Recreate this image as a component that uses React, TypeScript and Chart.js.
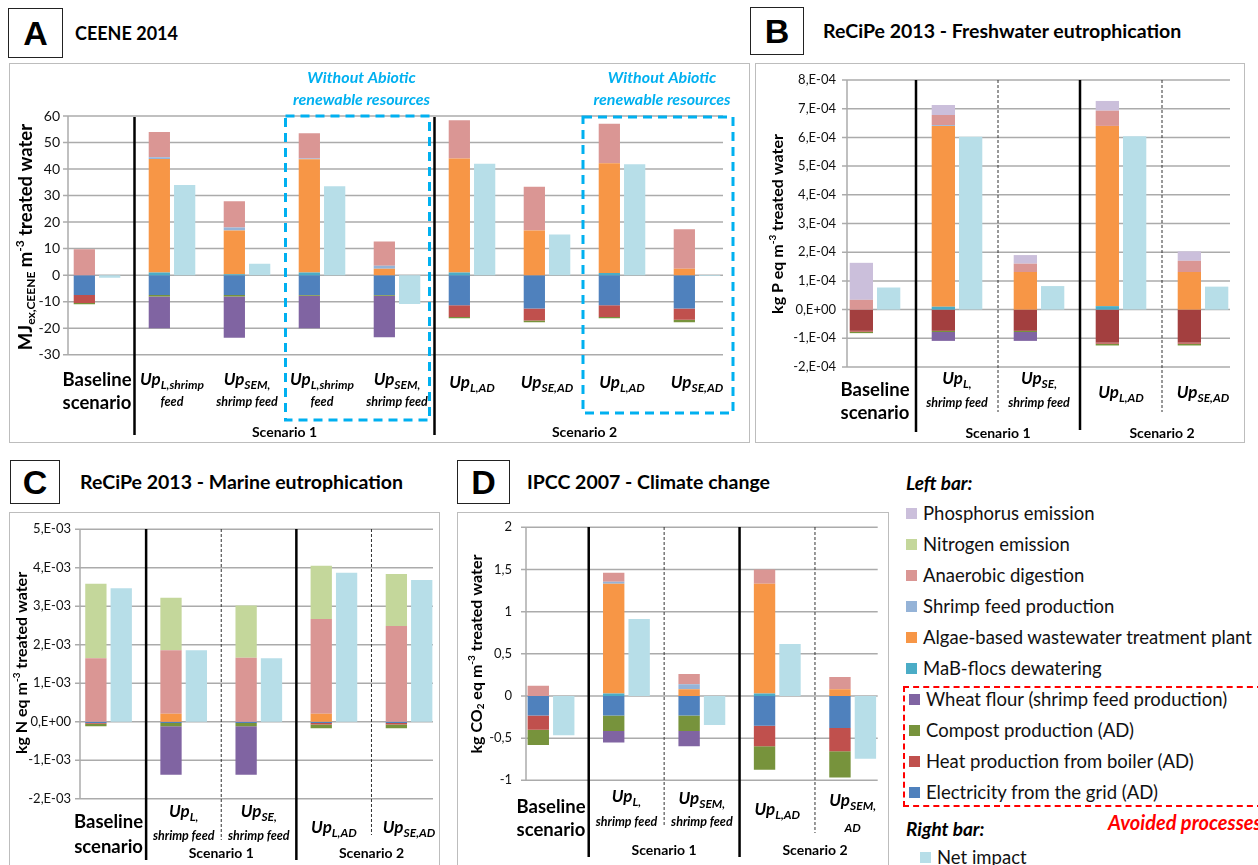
import React, { useEffect, useRef } from 'react';
import { Chart, registerables } from 'chart.js';
Chart.register(...registerables);

const FONT = 'Lato, "Noto Sans", sans-serif';

// ---------- colours ----------
const C_P = '#cbbfdb';
const C_N = '#c4d79b';
const C_AD = '#da9694';
const C_SF = '#95b3d7';
const C_ALG = '#f79646';
const C_MAB = '#4bacc6';
const C_WH = '#8064a2';
const C_CMP = '#77933c';
const C_HEAT = '#c0504d';
const C_EL = '#4f81bd';
const C_EL_B = '#a33f3f';
const C_NET = '#b7dee8';

// ---------- A: CEENE 2014 (MJex,CEENE m-3) ----------
const ceeneCategories = ['Baseline scenario', 'UpL,shrimp feed', 'UpSEM,shrimp feed', 'UpL,shrimp feed (w/o abiotic renewable)', 'UpSEM,shrimp feed (w/o abiotic renewable)', 'UpL,AD', 'UpSE,AD', 'UpL,AD (w/o abiotic renewable)', 'UpSE,AD (w/o abiotic renewable)'];
const ceeneMaB = [0, 1, 0.3, 1, 0, 1, 0, 0.8, 0];
const ceeneAlgae = [0, 42.8, 16.5, 42.7, 2.4, 43, 16.8, 41.4, 2.4];
const ceeneShrimpFeed = [0, 0.6, 1.2, 0.3, 1.1, 0, 0, 0, 0];
const ceeneAD = [9.8, 9.6, 9.9, 9.5, 9.2, 14.4, 16.5, 14.9, 14.9];
const ceeneElectricity = [-7.5, -7.5, -7.5, -7.5, -7.5, -11.4, -12.6, -11.4, -12.6];
const ceeneHeat = [-3.0, 0, 0, 0, 0, -4.4, -4.5, -4.4, -4.2];
const ceeneCompost = [-0.5, -0.6, -0.6, -0.3, -0.3, -0.5, -0.7, -0.5, -1.0];
const ceeneWheat = [0, -11.9, -15.5, -12.2, -15.6, 0, 0, 0, 0];
const ceeneNet = [-1.0, 34.0, 4.3, 33.5, -10.9, 42.0, 15.3, 41.8, -0.3];
const ceeneTicks = [60, 50, 40, 30, 20, 10, 0, -10, -20, -30];
const ceeneTickLabels = ['60', '50', '40', '30', '20', '10', '0', '-10', '-20', '-30'];

// ---------- B: ReCiPe 2013 freshwater eutrophication (kg P eq m-3) ----------
const fwCategories = ['Baseline scenario', 'UpL,shrimp feed', 'UpSE,shrimp feed', 'UpL,AD', 'UpSE,AD'];
const fwMaB = [0, 0.1e-4, 0, 0.12e-4, 0];
const fwAlgae = [0, 6.3e-4, 1.31e-4, 6.28e-4, 1.31e-4];
const fwShrimpFeed = [0, 0.03e-4, 0, 0, 0];
const fwAD = [0.34e-4, 0.35e-4, 0.29e-4, 0.53e-4, 0.39e-4];
const fwPhosphorus = [1.29e-4, 0.35e-4, 0.3e-4, 0.34e-4, 0.33e-4];
const fwElectricity = [-0.74e-4, -0.74e-4, -0.74e-4, -1.15e-4, -1.15e-4];
const fwHeat = [-0.03e-4, 0, 0, -0.04e-4, -0.04e-4];
const fwCompost = [-0.05e-4, -0.04e-4, -0.04e-4, -0.06e-4, -0.06e-4];
const fwWheat = [0, -0.31e-4, -0.31e-4, 0, 0];
const fwNet = [0.77e-4, 6.02e-4, 0.82e-4, 6.04e-4, 0.8e-4];
const fwTicks = [8e-4, 7e-4, 6e-4, 5e-4, 4e-4, 3e-4, 2e-4, 1e-4, 0, -1e-4, -2e-4];
const fwTickLabels = ['8,E-04', '7,E-04', '6,E-04', '5,E-04', '4,E-04', '3,E-04', '2,E-04', '1,E-04', '0,E+00', '-1,E-04', '-2,E-04'];

// ---------- C: ReCiPe 2013 marine eutrophication (kg N eq m-3) ----------
const meCategories = ['Baseline scenario', 'UpL,shrimp feed', 'UpSE,shrimp feed', 'UpL,AD', 'UpSE,AD'];
const meAlgae = [0, 0.21e-3, 0, 0.21e-3, 0];
const meAD = [1.65e-3, 1.65e-3, 1.66e-3, 2.46e-3, 2.49e-3];
const meNitrogen = [1.935e-3, 1.36e-3, 1.36e-3, 1.38e-3, 1.35e-3];
const meElectricity = [-0.03e-3, -0.03e-3, -0.03e-3, -0.03e-3, -0.03e-3];
const meHeat = [-0.02e-3, 0, 0, -0.04e-3, -0.04e-3];
const meCompost = [-0.07e-3, -0.09e-3, -0.09e-3, -0.1e-3, -0.1e-3];
const meWheat = [0, -1.26e-3, -1.26e-3, 0, 0];
const meNet = [3.47e-3, 1.86e-3, 1.65e-3, 3.87e-3, 3.68e-3];
const meTicks = [5e-3, 4e-3, 3e-3, 2e-3, 1e-3, 0, -1e-3, -2e-3];
const meTickLabels = ['5,E-03', '4,E-03', '3,E-03', '2,E-03', '1,E-03', '0,E+00', '-1,E-03', '-2,E-03'];

// ---------- D: IPCC 2007 climate change (kg CO2 eq m-3) ----------
const ccCategories = ['Baseline scenario', 'UpL,shrimp feed', 'UpSEM,shrimp feed', 'UpL,AD', 'UpSEM,AD'];
const ccMaB = [0, 0.03, 0, 0.03, 0];
const ccAlgae = [0, 1.3, 0.08, 1.3, 0.08];
const ccShrimpFeed = [0, 0.025, 0.058, 0, 0];
const ccAD = [0.12, 0.105, 0.122, 0.17, 0.145];
const ccElectricity = [-0.233, -0.233, -0.233, -0.352, -0.38];
const ccHeat = [-0.167, 0, 0, -0.245, -0.276];
const ccCompost = [-0.18, -0.182, -0.182, -0.277, -0.312];
const ccWheat = [0, -0.138, -0.182, 0, 0];
const ccNet = [-0.466, 0.913, -0.344, 0.617, -0.743];
const ccTicks = [2, 1.5, 1, 0.5, 0, -0.5, -1];
const ccTickLabels = ['2', '1,5', '1', '0,5', '0', '-0,5', '-1'];

// ---------- legend ----------
const legendLabels = ['Phosphorus emission', 'Nitrogen emission', 'Anaerobic digestion', 'Shrimp feed production', 'Algae-based wastewater treatment plant', 'MaB-flocs dewatering', 'Wheat flour (shrimp feed production)', 'Compost production (AD)', 'Heat production from boiler (AD)', 'Electricity from the grid (AD)'];
const legendColors = [C_P, C_N, C_AD, C_SF, C_ALG, C_MAB, C_WH, C_CMP, C_HEAT, C_EL];

// ---------- text helpers ----------
type Run = { t: string; f: string; dy?: number };
const fnt = (w: string, s: number) => `${w} ${s}px ${FONT}`;
const BASEF = fnt('bold', 18.5);
const UPF = fnt('italic bold', 17);
const SUBF = fnt('italic bold', 12);
const L2F = fnt('italic bold', 12.5);
const SCEN = fnt('bold', 14);

const base = (t: string): Run[] => [{ t, f: BASEF }];
const up = (sub: string): Run[] => [{ t: 'Up', f: UPF }, { t: sub, f: SUBF, dy: 5 }];
const ln2 = (t: string): Run[] => [{ t, f: L2F }];

function richWidth(ctx: CanvasRenderingContext2D, runs: Run[]) {
  let w = 0;
  runs.forEach((r) => { ctx.font = r.f; w += ctx.measureText(r.t).width; });
  return w;
}
function drawRich(ctx: CanvasRenderingContext2D, runs: Run[], cx: number, cy: number) {
  const total = richWidth(ctx, runs);
  let x = cx - total / 2;
  ctx.textAlign = 'left';
  ctx.textBaseline = 'middle';
  runs.forEach((r) => {
    ctx.font = r.f;
    ctx.fillText(r.t, x, cy + (r.dy || 0));
    x += ctx.measureText(r.t).width;
  });
}

type Line = { y: number; r: Run[] };
type Sep = { b: number; solid: boolean; y1: number; y2: number };
type Spec = {
  id: string;
  canvas: { left: number; top: number; w: number; h: number };
  area: { l: number; r: number; t: number; b: number };
  yMin: number; yMax: number;
  ticks: number[]; tickLabels: string[]; tickFont: number; tickRight: number;
  gridFrom: number; gridTo: number;
  categories: string[];
  series: { label: string; data: number[]; color: string; stack: string }[];
  cp: number; bp: number;
  seps: Sep[];
  labels: Line[][];
  scen: { t: string; c1: number; c2: number; y: number }[];
  axisTitle: { runs: Run[]; cx: number; cy: number };
  extra?: (chart: any, ox: number, oy: number, bx: (k: number) => number) => void;
};

const GRID = '#ababab';

function makePlugin(spec: Spec) {
  const ox = spec.canvas.left;
  const oy = spec.canvas.top;
  const boundary = (chart: any, k: number) => {
    const x = chart.scales.x;
    const n = spec.categories.length;
    if (k <= 0) return chart.chartArea.left;
    if (k >= n) return chart.chartArea.right;
    return (x.getPixelForValue(k - 1) + x.getPixelForValue(k)) / 2;
  };
  return {
    id: 'deco_' + spec.id,
    beforeDatasetsDraw(chart: any) {
      const ctx = chart.ctx as CanvasRenderingContext2D;
      const y = chart.scales.y;
      const gx1 = spec.gridFrom - ox;
      const gx2 = spec.gridTo - ox;
      ctx.save();
      ctx.strokeStyle = GRID;
      ctx.lineWidth = 1.5;
      const ys = spec.ticks.map((v) => y.getPixelForValue(v));
      ys.forEach((py) => {
        ctx.beginPath();
        ctx.moveTo(gx1 - 5, py);
        ctx.lineTo(gx2, py);
        ctx.stroke();
      });
      ctx.beginPath();
      ctx.moveTo(gx1, Math.min(...ys));
      ctx.lineTo(gx1, Math.max(...ys));
      ctx.stroke();
      ctx.fillStyle = '#111';
      ctx.font = fnt('normal', spec.tickFont);
      ctx.textAlign = 'right';
      ctx.textBaseline = 'middle';
      ys.forEach((py, i) => ctx.fillText(spec.tickLabels[i], spec.tickRight - ox, py));
      ctx.restore();
    },
    afterDraw(chart: any) {
      const ctx = chart.ctx as CanvasRenderingContext2D;
      const x = chart.scales.x;
      ctx.save();
      spec.seps.forEach((s) => {
        const bx = boundary(chart, s.b);
        ctx.beginPath();
        if (s.solid) {
          ctx.strokeStyle = '#000';
          ctx.lineWidth = 2.5;
          ctx.setLineDash([]);
        } else {
          ctx.strokeStyle = '#333';
          ctx.lineWidth = 1;
          ctx.setLineDash([3, 2]);
        }
        ctx.moveTo(bx, s.y1 - oy);
        ctx.lineTo(bx, s.y2 - oy);
        ctx.stroke();
      });
      ctx.setLineDash([]);
      ctx.fillStyle = '#000';
      spec.labels.forEach((lines, i) => {
        const cx = x.getPixelForValue(i);
        lines.forEach((ln) => drawRich(ctx, ln.r, cx, ln.y - oy));
      });
      spec.scen.forEach((s) => {
        const cx = (x.getPixelForValue(s.c1) + x.getPixelForValue(s.c2)) / 2;
        drawRich(ctx, [{ t: s.t, f: SCEN }], cx, s.y - oy);
      });
      ctx.translate(spec.axisTitle.cx - ox, spec.axisTitle.cy - oy);
      ctx.rotate(-Math.PI / 2);
      drawRich(ctx, spec.axisTitle.runs, 0, 0);
      ctx.restore();
      if (spec.extra) {
        ctx.save();
        spec.extra(chart, ox, oy, (k: number) => boundary(chart, k));
        ctx.restore();
      }
    },
  };
}

function buildConfig(spec: Spec) {
  const { canvas, area } = spec;
  return {
    type: 'bar' as const,
    data: {
      labels: spec.categories,
      datasets: spec.series.map((s) => ({
        label: s.label,
        data: s.data,
        backgroundColor: s.color,
        stack: s.stack,
        borderWidth: 0,
        categoryPercentage: spec.cp,
        barPercentage: spec.bp,
      })),
    },
    options: {
      animation: false as const,
      responsive: false,
      devicePixelRatio: 1,
      events: [],
      layout: {
        padding: {
          left: area.l - canvas.left,
          right: canvas.left + canvas.w - area.r,
          top: area.t - canvas.top,
          bottom: canvas.top + canvas.h - area.b,
        },
      },
      plugins: { legend: { display: false }, tooltip: { enabled: false }, title: { display: false } },
      scales: {
        x: { type: 'category' as const, display: false, stacked: true, offset: true, grid: { offset: true } },
        y: { type: 'linear' as const, display: false, stacked: true, min: spec.yMin, max: spec.yMax },
      },
    },
    plugins: [makePlugin(spec)],
  };
}

const L = 'L';
const R = 'R';

const specA: Spec = {
  id: 'A',
  canvas: { left: 9, top: 63, w: 741, h: 380 },
  area: { l: 59.5, r: 734.5, t: 116, b: 354.7 },
  yMin: -30, yMax: 60,
  ticks: ceeneTicks, tickLabels: ceeneTickLabels, tickFont: 14, tickRight: 60,
  gridFrom: 68, gridTo: 723,
  categories: ceeneCategories,
  series: [
    { label: 'MaB-flocs dewatering', data: ceeneMaB, color: C_MAB, stack: L },
    { label: 'Algae-based wastewater treatment plant', data: ceeneAlgae, color: C_ALG, stack: L },
    { label: 'Shrimp feed production', data: ceeneShrimpFeed, color: C_SF, stack: L },
    { label: 'Anaerobic digestion', data: ceeneAD, color: C_AD, stack: L },
    { label: 'Electricity from the grid (AD)', data: ceeneElectricity, color: C_EL, stack: L },
    { label: 'Heat production from boiler (AD)', data: ceeneHeat, color: C_HEAT, stack: L },
    { label: 'Compost production (AD)', data: ceeneCompost, color: C_CMP, stack: L },
    { label: 'Wheat flour (shrimp feed production)', data: ceeneWheat, color: C_WH, stack: L },
    { label: 'Net impact', data: ceeneNet, color: C_NET, stack: R },
  ],
  cp: 0.675, bp: 0.84,
  seps: [
    { b: 1, solid: true, y1: 117, y2: 435 },
    { b: 5, solid: true, y1: 117, y2: 435 },
  ],
  labels: [
    [{ y: 380, r: base('Baseline') }, { y: 403, r: base('scenario') }],
    [{ y: 380, r: up('L,shrimp') }, { y: 402, r: ln2('feed') }],
    [{ y: 380, r: up('SEM,') }, { y: 402, r: ln2('shrimp feed') }],
    [{ y: 380, r: up('L,shrimp') }, { y: 402, r: ln2('feed') }],
    [{ y: 380, r: up('SEM,') }, { y: 402, r: ln2('shrimp feed') }],
    [{ y: 383, r: up('L,AD') }],
    [{ y: 383, r: up('SE,AD') }],
    [{ y: 383, r: up('L,AD') }],
    [{ y: 383, r: up('SE,AD') }],
  ],
  scen: [
    { t: 'Scenario 1', c1: 1, c2: 4, y: 432 },
    { t: 'Scenario 2', c1: 5, c2: 8, y: 432 },
  ],
  axisTitle: {
    runs: [
      { t: 'MJ', f: fnt('bold', 18.5) },
      { t: 'ex,CEENE', f: fnt('bold', 12), dy: 5 },
      { t: ' m', f: fnt('bold', 18.5) },
      { t: '-3', f: fnt('bold', 12), dy: -6 },
      { t: ' treated water', f: fnt('bold', 18.5) },
    ],
    cx: 26, cy: 237,
  },
  extra: (chart, ox, oy, bx) => {
    const ctx = chart.ctx as CanvasRenderingContext2D;
    const boxes = [
      { x1: bx(3) + 1, x2: bx(5) - 5, y1: 116, y2: 420 },
      { x1: bx(7) - 1.5, x2: bx(9) - 1.5, y1: 117, y2: 413 },
    ];
    ctx.strokeStyle = '#00b0f0';
    ctx.lineWidth = 3;
    ctx.setLineDash([9, 6]);
    boxes.forEach((b) => {
      ctx.strokeRect(b.x1, b.y1 - oy, b.x2 - b.x1, b.y2 - b.y1);
    });
    ctx.setLineDash([]);
    ctx.fillStyle = '#00b0f0';
    boxes.forEach((b) => {
      const cx = (b.x1 + b.x2) / 2 + 4;
      drawRich(ctx, [{ t: 'Without Abiotic', f: fnt('italic bold', 16) }], cx, 78 - oy);
      drawRich(ctx, [{ t: 'renewable resources', f: fnt('italic bold', 16) }], cx, 99.5 - oy);
    });
  },
};

const specB: Spec = {
  id: 'B',
  canvas: { left: 755, top: 63, w: 489, h: 380 },
  area: { l: 834, r: 1244, t: 80, b: 367 },
  yMin: -2e-4, yMax: 8e-4,
  ticks: fwTicks, tickLabels: fwTickLabels, tickFont: 13, tickRight: 836,
  gridFrom: 847, gridTo: 1230,
  categories: fwCategories,
  series: [
    { label: 'MaB-flocs dewatering', data: fwMaB, color: C_MAB, stack: L },
    { label: 'Algae-based wastewater treatment plant', data: fwAlgae, color: C_ALG, stack: L },
    { label: 'Shrimp feed production', data: fwShrimpFeed, color: C_SF, stack: L },
    { label: 'Anaerobic digestion', data: fwAD, color: C_AD, stack: L },
    { label: 'Phosphorus emission', data: fwPhosphorus, color: C_P, stack: L },
    { label: 'Electricity from the grid (AD)', data: fwElectricity, color: C_EL_B, stack: L },
    { label: 'Heat production from boiler (AD)', data: fwHeat, color: C_HEAT, stack: L },
    { label: 'Compost production (AD)', data: fwCompost, color: C_CMP, stack: L },
    { label: 'Wheat flour (shrimp feed production)', data: fwWheat, color: C_WH, stack: L },
    { label: 'Net impact', data: fwNet, color: C_NET, stack: R },
  ],
  cp: 0.666, bp: 0.853,
  seps: [
    { b: 1, solid: true, y1: 80, y2: 432 },
    { b: 2, solid: false, y1: 80, y2: 412 },
    { b: 3, solid: true, y1: 80, y2: 430 },
    { b: 4, solid: false, y1: 80, y2: 412 },
  ],
  labels: [
    [{ y: 390, r: base('Baseline') }, { y: 413, r: base('scenario') }],
    [{ y: 379, r: up('L,') }, { y: 403, r: ln2('shrimp feed') }],
    [{ y: 379, r: up('SE,') }, { y: 403, r: ln2('shrimp feed') }],
    [{ y: 393, r: up('L,AD') }],
    [{ y: 393, r: up('SE,AD') }],
  ],
  scen: [
    { t: 'Scenario 1', c1: 1, c2: 2, y: 433 },
    { t: 'Scenario 2', c1: 3, c2: 4, y: 433 },
  ],
  axisTitle: {
    runs: [
      { t: 'kg P eq m', f: fnt('bold', 16) },
      { t: '-3', f: fnt('bold', 10), dy: -5 },
      { t: ' treated water', f: fnt('bold', 16) },
    ],
    cx: 778, cy: 224,
  },
};

const specC: Spec = {
  id: 'C',
  canvas: { left: 0, top: 512, w: 450, h: 353 },
  area: { l: 71, r: 446.6, t: 529.3, b: 798.7 },
  yMin: -2e-3, yMax: 5e-3,
  ticks: meTicks, tickLabels: meTickLabels, tickFont: 13, tickRight: 71,
  gridFrom: 80, gridTo: 433,
  categories: meCategories,
  series: [
    { label: 'Algae-based wastewater treatment plant', data: meAlgae, color: C_ALG, stack: L },
    { label: 'Anaerobic digestion', data: meAD, color: C_AD, stack: L },
    { label: 'Nitrogen emission', data: meNitrogen, color: C_N, stack: L },
    { label: 'Electricity from the grid (AD)', data: meElectricity, color: C_EL, stack: L },
    { label: 'Heat production from boiler (AD)', data: meHeat, color: C_HEAT, stack: L },
    { label: 'Compost production (AD)', data: meCompost, color: C_CMP, stack: L },
    { label: 'Wheat flour (shrimp feed production)', data: meWheat, color: C_WH, stack: L },
    { label: 'Net impact', data: meNet, color: C_NET, stack: R },
  ],
  cp: 0.675, bp: 0.84,
  seps: [
    { b: 1, solid: true, y1: 529, y2: 860 },
    { b: 2, solid: false, y1: 529, y2: 840 },
    { b: 3, solid: true, y1: 529, y2: 860 },
    { b: 4, solid: false, y1: 529, y2: 835 },
  ],
  labels: [
    [{ y: 822, r: base('Baseline') }, { y: 847, r: base('scenario') }],
    [{ y: 812, r: up('L,') }, { y: 836, r: ln2('shrimp feed') }],
    [{ y: 812, r: up('SE,') }, { y: 836, r: ln2('shrimp feed') }],
    [{ y: 828, r: up('L,AD') }],
    [{ y: 828, r: up('SE,AD') }],
  ],
  scen: [
    { t: 'Scenario 1', c1: 1, c2: 2, y: 853 },
    { t: 'Scenario 2', c1: 3, c2: 4, y: 853 },
  ],
  axisTitle: {
    runs: [
      { t: 'kg N eq m', f: fnt('bold', 16) },
      { t: '-3', f: fnt('bold', 10), dy: -5 },
      { t: ' treated water', f: fnt('bold', 16) },
    ],
    cx: 22, cy: 663,
  },
};

const specD: Spec = {
  id: 'D',
  canvas: { left: 457, top: 512, w: 440, h: 353 },
  area: { l: 513.3, r: 890.4, t: 527.3, b: 780.3 },
  yMin: -1, yMax: 2,
  ticks: ccTicks, tickLabels: ccTickLabels, tickFont: 13, tickRight: 512,
  gridFrom: 526, gridTo: 877.7,
  categories: ccCategories,
  series: [
    { label: 'MaB-flocs dewatering', data: ccMaB, color: C_MAB, stack: L },
    { label: 'Algae-based wastewater treatment plant', data: ccAlgae, color: C_ALG, stack: L },
    { label: 'Shrimp feed production', data: ccShrimpFeed, color: C_SF, stack: L },
    { label: 'Anaerobic digestion', data: ccAD, color: C_AD, stack: L },
    { label: 'Electricity from the grid (AD)', data: ccElectricity, color: C_EL, stack: L },
    { label: 'Heat production from boiler (AD)', data: ccHeat, color: C_HEAT, stack: L },
    { label: 'Compost production (AD)', data: ccCompost, color: C_CMP, stack: L },
    { label: 'Wheat flour (shrimp feed production)', data: ccWheat, color: C_WH, stack: L },
    { label: 'Net impact', data: ccNet, color: C_NET, stack: R },
  ],
  cp: 0.675, bp: 0.84,
  seps: [
    { b: 1, solid: true, y1: 527, y2: 857 },
    { b: 2, solid: false, y1: 527, y2: 827 },
    { b: 3, solid: true, y1: 527, y2: 857 },
    { b: 4, solid: false, y1: 527, y2: 833 },
  ],
  labels: [
    [{ y: 807, r: base('Baseline') }, { y: 830, r: base('scenario') }],
    [{ y: 797, r: up('L,') }, { y: 822, r: ln2('shrimp feed') }],
    [{ y: 799, r: up('SEM,') }, { y: 822, r: ln2('shrimp feed') }],
    [{ y: 810, r: up('L,AD') }],
    [{ y: 801, r: up('SEM,') }, { y: 828, r: [{ t: 'AD', f: SUBF }] }],
  ],
  scen: [
    { t: 'Scenario 1', c1: 1, c2: 2, y: 850 },
    { t: 'Scenario 2', c1: 3, c2: 4, y: 850 },
  ],
  axisTitle: {
    runs: [
      { t: 'kg CO', f: fnt('bold', 16) },
      { t: '2', f: fnt('bold', 10), dy: 4 },
      { t: ' eq m', f: fnt('bold', 16) },
      { t: '-3', f: fnt('bold', 10), dy: -5 },
      { t: ' treated water', f: fnt('bold', 16) },
    ],
    cx: 477, cy: 654,
  },
};

function ChartPanel({ spec }: { spec: Spec }) {
  const ref = useRef<HTMLCanvasElement | null>(null);
  useEffect(() => {
    if (!ref.current) return;
    const chart = new Chart(ref.current, buildConfig(spec) as any);
    let alive = true;
    const fonts: any = (document as any).fonts;
    if (fonts && fonts.load) {
      Promise.all([
        fonts.load(`bold 16px Lato`),
        fonts.load(`italic bold 16px Lato`),
        fonts.load(`16px Lato`),
      ]).then(() => { if (alive) chart.update(); }).catch(() => {});
    }
    return () => { alive = false; chart.destroy(); };
  }, []);
  const c = spec.canvas;
  return (
    <canvas
      ref={ref}
      width={c.w}
      height={c.h}
      style={{ position: 'absolute', left: c.left, top: c.top, width: c.w, height: c.h }}
    />
  );
}

const frame = (l: number, t: number, r: number, b: number): React.CSSProperties => ({
  position: 'absolute', left: l, top: t, width: r - l, height: b - t,
  border: '1.5px solid #bdbdbd', boxSizing: 'border-box', background: '#fff',
});

function LetterBox({ l, t, w, h, ch }: { l: number; t: number; w: number; h: number; ch: string }) {
  return (
    <div style={{
      position: 'absolute', left: l, top: t, width: w, height: h, border: '1.5px solid #222',
      boxSizing: 'border-box', display: 'flex', alignItems: 'center', justifyContent: 'center',
      font: `bold 34px "Liberation Sans", Arial, sans-serif`, color: '#000', background: '#fff',
    }}>{ch}</div>
  );
}

function Title({ x, y, text, size }: { x: number; y: number; text: string; size: number }) {
  return (
    <div style={{
      position: 'absolute', left: x, top: y, transform: 'translateY(-50%)', whiteSpace: 'nowrap',
      font: `bold ${size}px ${FONT}`, color: '#000', lineHeight: '24px',
    }}>{text}</div>
  );
}

function Legend() {
  const txt: React.CSSProperties = { position: 'absolute', whiteSpace: 'nowrap', font: `18.5px ${FONT}`, color: '#111', lineHeight: '22px', transform: 'translateY(-50%)' };
  return (
    <>
      <div style={{ ...txt, left: 906, top: 483, font: `italic bold 19px ${FONT}`, color: '#000' }}>Left bar:</div>
      {legendLabels.map((lab, i) => {
        const cy = 513 + i * 31;
        const avoided = i >= 6;
        const sx = avoided ? 909 : 906;
        return (
          <React.Fragment key={lab}>
            <div style={{ position: 'absolute', left: sx, top: cy - 5.5, width: 11, height: 11, background: legendColors[i] }} />
            <div style={{ ...txt, left: sx + 17, top: cy }}>{lab}</div>
          </React.Fragment>
        );
      })}
      <div style={{ position: 'absolute', left: 903, top: 686, width: 360, height: 121, border: '2px dashed #ff0000', boxSizing: 'border-box' }} />
      <div style={{ ...txt, left: 1108, top: 822, font: `italic bold 20px ${FONT}`, color: '#ff0000' }}>Avoided processes</div>
      <div style={{ ...txt, left: 906, top: 829, font: `italic bold 19px ${FONT}`, color: '#000' }}>Right bar:</div>
      <div style={{ position: 'absolute', left: 920, top: 851.5, width: 11, height: 11, background: C_NET }} />
      <div style={{ ...txt, left: 937, top: 857 }}>Net impact</div>
    </>
  );
}

export default function App() {
  return (
    <div style={{ position: 'absolute', left: 0, top: 0, width: 1258, height: 865, overflow: 'hidden', background: '#fff' }}>
      <div style={frame(9, 63, 750, 443)} />
      <div style={frame(755, 63, 1245, 443)} />
      <div style={frame(9, 512, 440, 866)} />
      <div style={frame(457, 512, 889, 866)} />
      <LetterBox l={8} t={8} w={55} h={50} ch="A" />
      <LetterBox l={750} t={7} w={54} h={48} ch="B" />
      <LetterBox l={10} t={460} w={50} h={44} ch="C" />
      <LetterBox l={457} t={460} w={53} h={44} ch="D" />
      <Title x={75} y={33} size={18} text="CEENE 2014" />
      <Title x={823} y={31} size={19.5} text="ReCiPe 2013 - Freshwater eutrophication" />
      <Title x={80} y={482} size={19.5} text="ReCiPe 2013 - Marine eutrophication" />
      <Title x={527} y={482} size={19.5} text="IPCC 2007 - Climate change" />
      <ChartPanel spec={specA} />
      <ChartPanel spec={specB} />
      <ChartPanel spec={specC} />
      <ChartPanel spec={specD} />
      <Legend />
    </div>
  );
}
